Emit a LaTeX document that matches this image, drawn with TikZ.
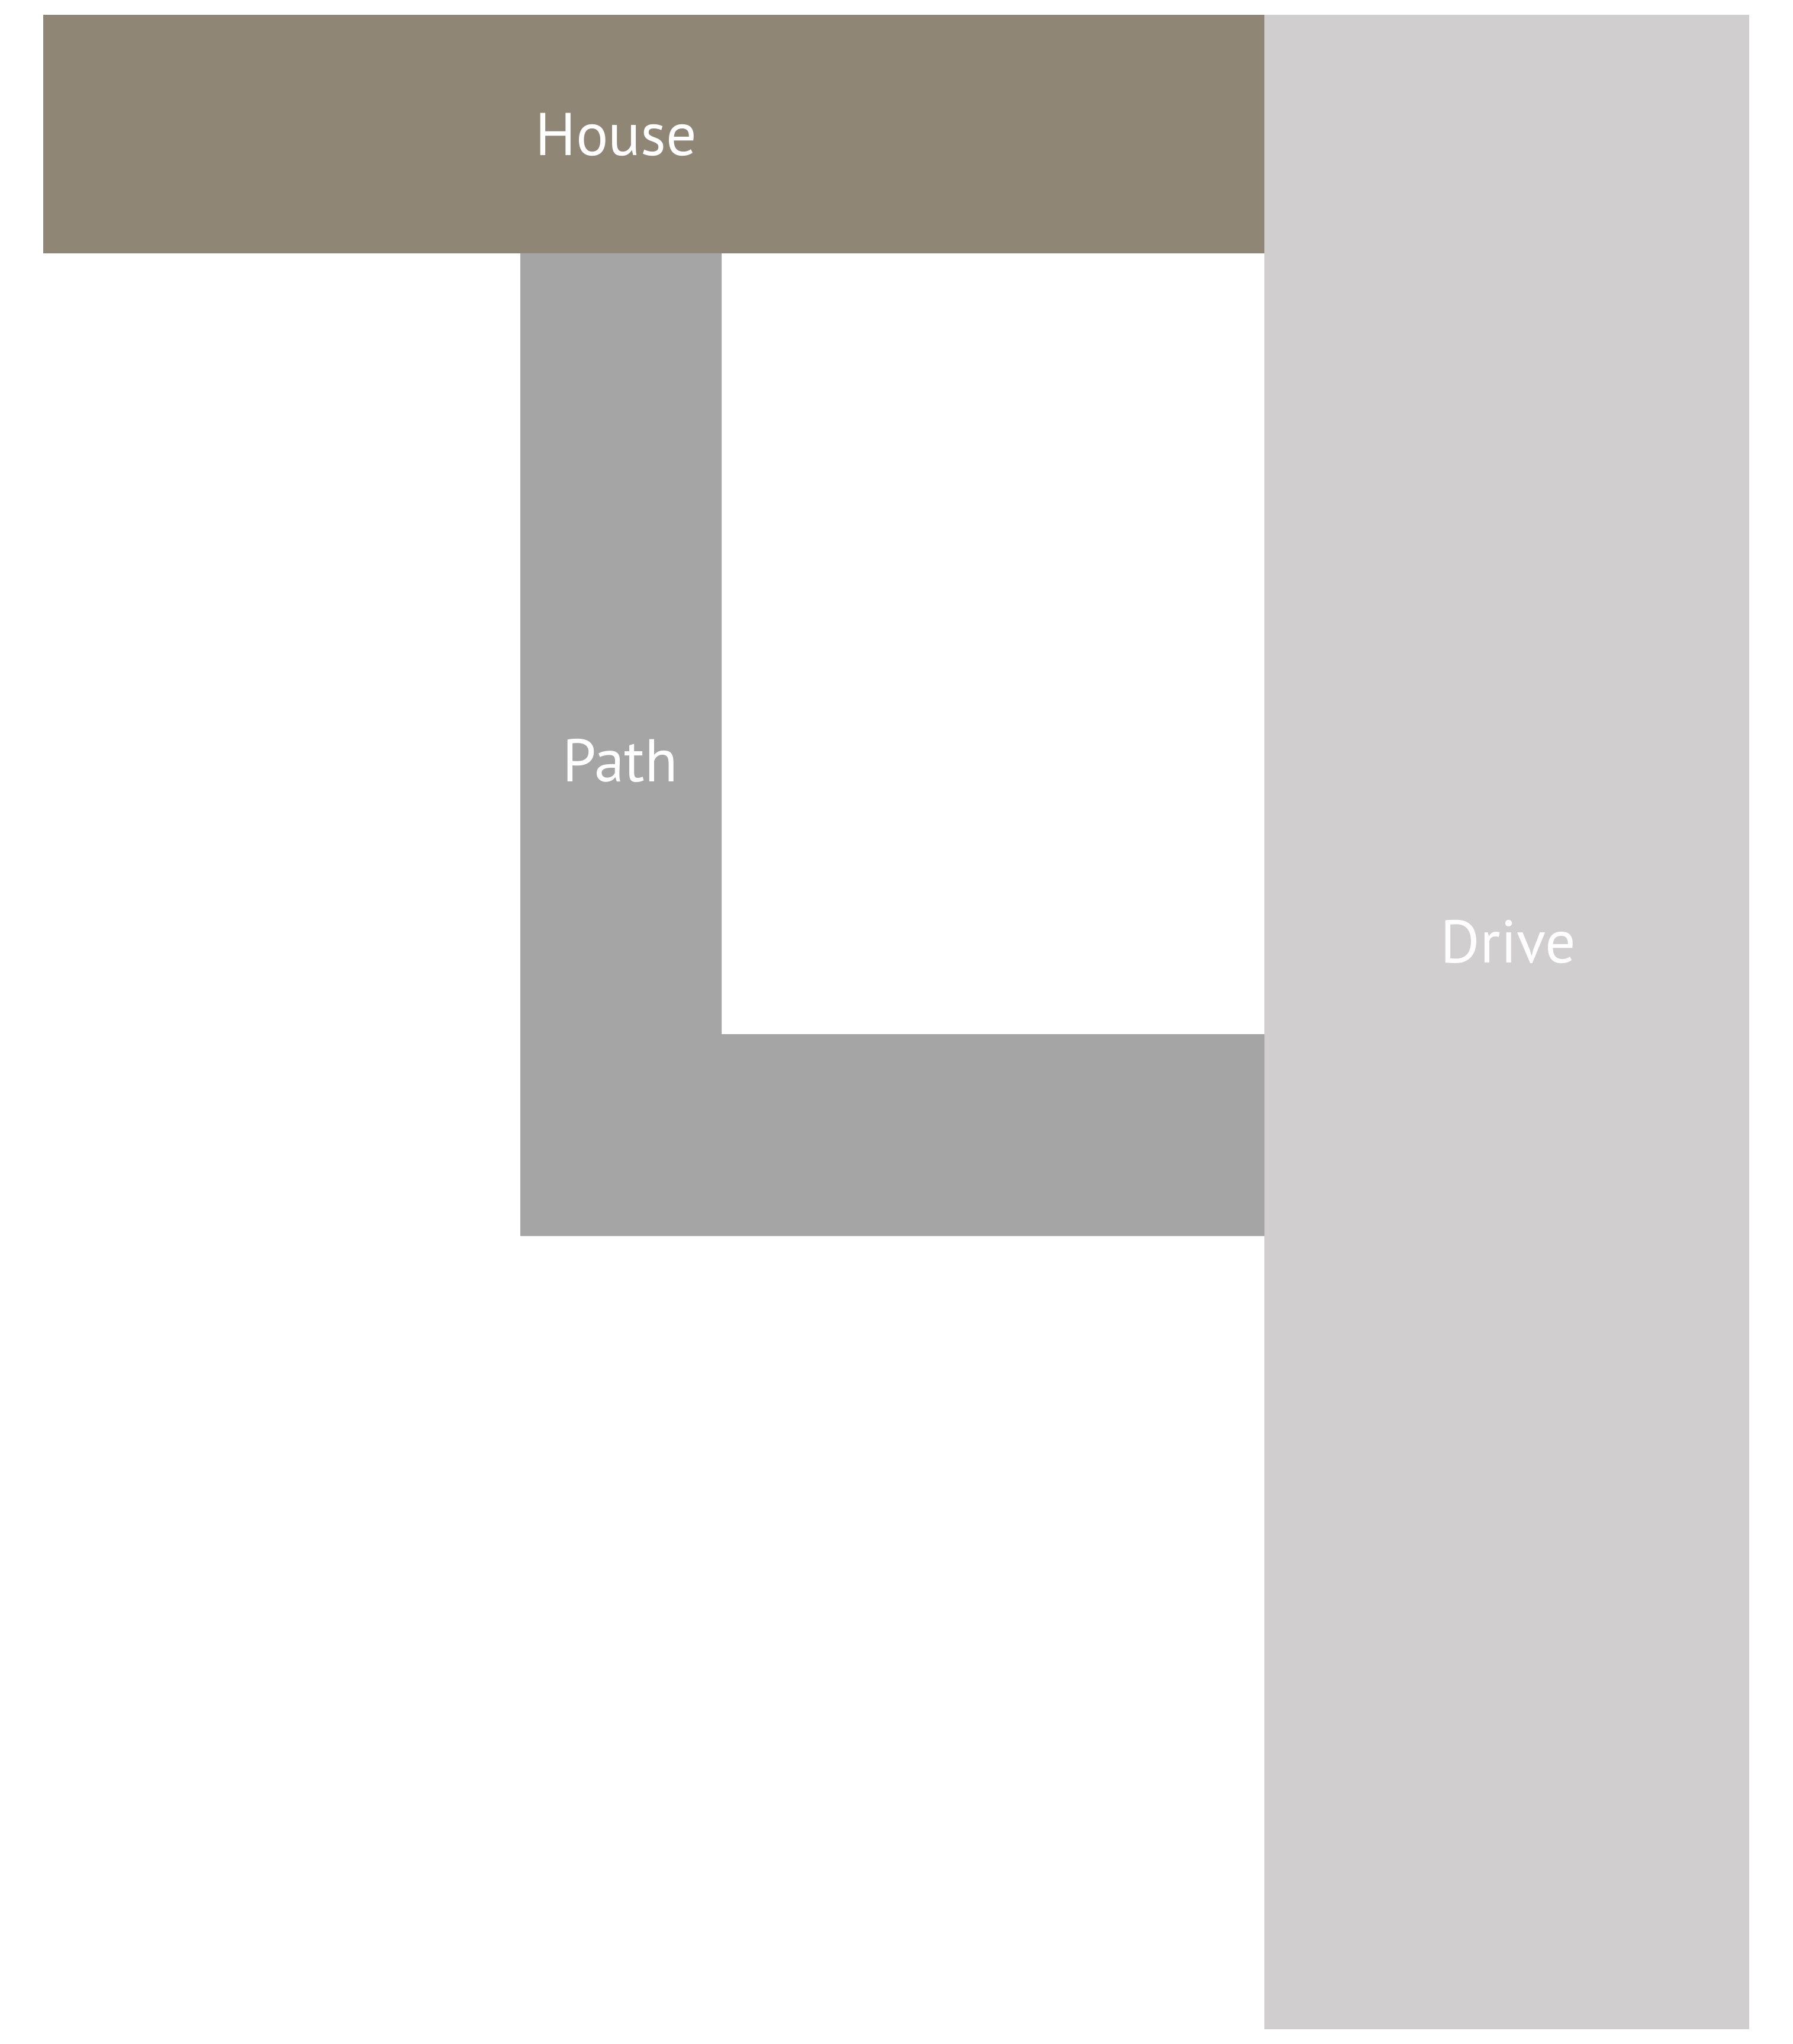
\documentclass[tikz,border=0pt]{standalone}
\usepackage{fontspec}
\setmainfont{PT Sans}
\usetikzlibrary{positioning}

\definecolor{housebrown}{RGB}{143,134,118}
\definecolor{pathgrey}{RGB}{165,165,165}
\definecolor{drivegrey}{RGB}{208,206,207}

\begin{document}
\begin{tikzpicture}[
    x=1cm, y=-1cm,
    area/.style={draw=none},
    label/.style={
        text=white, inner sep=0pt, anchor=base,
        font=\fontsize{29}{35}\selectfont
    }
]
\useasboundingbox (0,0) rectangle (30.29,34.53);

% -------------------------
% 1. House (top strip)
% -------------------------
\fill[area, housebrown] (0.73,0.25) rectangle (21.36,4.28);

% -------------------------
% 2. Drive (right strip)
% -------------------------
\fill[area, drivegrey] (21.36,0.25) rectangle (29.55,34.28);

% -------------------------
% 3. Path (L shape from house to drive)
% -------------------------
\fill[area, pathgrey] (8.79,4.28) -- (12.19,4.28) -- (12.19,17.47)
    -- (21.36,17.47) -- (21.36,20.88) -- (8.79,20.88) -- cycle;

% labels
\node[label] (House) at (10.41,2.63) {House};
\node[label] (Path) at (10.48,13.20) {Path};
\node[label] (Drive) at (25.48,16.26) {Drive};

\end{tikzpicture}
\end{document}
